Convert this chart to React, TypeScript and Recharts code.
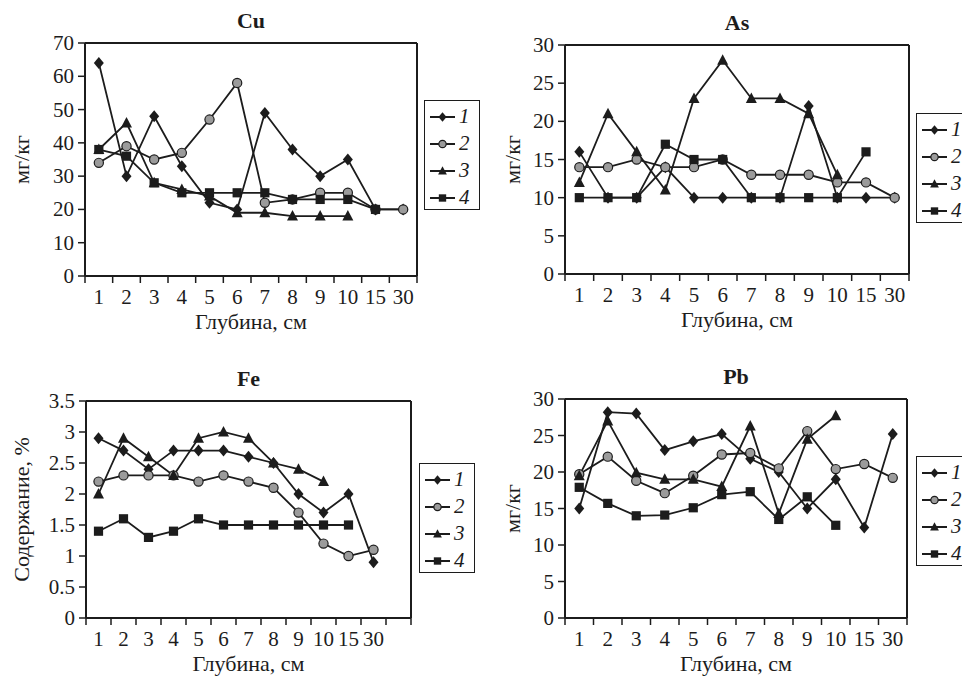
import React from "react";
import { LineChart, Line, XAxis, YAxis, Legend, CartesianGrid } from "recharts";

const depths = ["1", "2", "3", "4", "5", "6", "7", "8", "9", "10", "15", "30"];
const feDepths = [...depths, ""];
const seriesNames = ["1", "2", "3", "4"];

// Cu, мг/кг
const cu1 = [64, 30, 48, 33, 22, 20, 49, 38, 30, 35, 20, 20];
const cu2 = [34, 39, 35, 37, 47, 58, 22, 23, 25, 25, 20, 20];
const cu3 = [38, 46, 28, 26, 24, 19, 19, 18, 18, 18, null, null];
const cu4 = [38, 36, 28, 25, 25, 25, 25, 23, 23, 23, 20, null];

// As, мг/кг
const as1 = [16, 10, 10, 14, 10, 10, 10, 10, 22, 10, 10, 10];
const as2 = [14, 14, 15, 14, 14, 15, 13, 13, 13, 12, 12, 10];
const as3 = [12, 21, 16, 11, 23, 28, 23, 23, 21, 13, null, null];
const as4 = [10, 10, 10, 17, 15, 15, 10, 10, 10, 10, 16, null];

// Fe, %
const fe1 = [2.9, 2.7, 2.4, 2.7, 2.7, 2.7, 2.6, 2.5, 2.0, 1.7, 2.0, 0.9, null];
const fe2 = [2.2, 2.3, 2.3, 2.3, 2.2, 2.3, 2.2, 2.1, 1.7, 1.2, 1.0, 1.1, null];
const fe3 = [2.0, 2.9, 2.6, 2.3, 2.9, 3.0, 2.9, 2.5, 2.4, 2.2, null, null, null];
const fe4 = [1.4, 1.6, 1.3, 1.4, 1.6, 1.5, 1.5, 1.5, 1.5, 1.5, 1.5, null, null];

// Pb, мг/кг
const pb1 = [15, 28.2, 28, 23, 24.2, 25.2, 21.8, 20, 15, 19, 12.4, 25.2];
const pb2 = [19.7, 22.1, 18.8, 17.1, 19.5, 22.4, 22.6, 20.5, 25.6, 20.4, 21.1, 19.2];
const pb3 = [19.5, 27, 19.9, 19, 19, 18, 26.3, 14.3, 24.5, 27.7, null, null];
const pb4 = [17.9, 15.7, 14, 14.1, 15.1, 16.9, 17.3, 13.5, 16.6, 12.7, null, null];

const ticks70 = [0, 10, 20, 30, 40, 50, 60, 70];
const ticks30 = [0, 5, 10, 15, 20, 25, 30];
const ticks35 = [0, 0.5, 1, 1.5, 2, 2.5, 3, 3.5];

const FONT = "'Liberation Serif', 'DejaVu Serif', 'Times New Roman', serif";
const INK = "#1c1c1c";
const FS = 21;
const CAP = 22;

function marker(i: number, cx: number, cy: number, s = 1) {
  if (cx == null || cy == null || isNaN(cx) || isNaN(cy)) return null;
  if (i === 0)
    return <path d={`M${cx},${cy - 6 * s}L${cx + 5 * s},${cy}L${cx},${cy + 6 * s}L${cx - 5 * s},${cy}Z`} fill={INK} />;
  if (i === 1) return <circle cx={cx} cy={cy} r={4.6 * s} fill="#9b9b9b" stroke={INK} strokeWidth={1.2} />;
  if (i === 2)
    return <path d={`M${cx},${cy - 6 * s}L${cx + 5.5 * s},${cy + 4.5 * s}L${cx - 5.5 * s},${cy + 4.5 * s}Z`} fill={INK} />;
  return <rect x={cx - 4.6 * s} y={cy - 4.6 * s} width={9.2 * s} height={9.2 * s} fill={INK} />;
}

function Dot(props: any) {
  const { cx, cy, idx } = props;
  return <g>{marker(idx, cx, cy)}</g>;
}

function XTick(props: any) {
  const { x, payload, index, bw, axisY, n } = props;
  const left = x - bw / 2;
  return (
    <g>
      <line x1={left} x2={left} y1={axisY} y2={axisY + 7} stroke={INK} strokeWidth={1.5} />
      {index === n - 1 && <line x1={x + bw / 2} x2={x + bw / 2} y1={axisY} y2={axisY + 7} stroke={INK} strokeWidth={1.5} />}
      <text x={x} y={axisY + 28} textAnchor="middle" style={{ fontFamily: FONT, fontSize: FS }} fill={INK}>
        {payload.value}
      </text>
    </g>
  );
}

function YTick(props: any) {
  const { x, y, payload } = props;
  return (
    <text x={x} y={y} dy={7} textAnchor="end" style={{ fontFamily: FONT, fontSize: FS }} fill={INK}>
      {payload.value}
    </text>
  );
}

// x-axis caption plus the panel title above the plot
function XLabel(props: any) {
  const { viewBox, text, title, plotTop } = props;
  const cx = viewBox.x + viewBox.width / 2;
  return (
    <g>
      <text x={cx} y={viewBox.y + 53} textAnchor="middle" style={{ fontFamily: FONT, fontSize: CAP }} fill={INK}>
        {text}
      </text>
      <text x={cx} y={plotTop - 15} textAnchor="middle" style={{ fontFamily: FONT, fontSize: CAP, fontWeight: "bold" }} fill={INK}>
        {title}
      </text>
    </g>
  );
}

function YLabel(props: any) {
  const { viewBox, text, dx } = props;
  const x = viewBox.x + dx;
  const y = viewBox.y + viewBox.height / 2;
  return (
    <text x={x} y={y} dy={7} transform={`rotate(-90 ${x} ${y})`} textAnchor="middle" style={{ fontFamily: FONT, fontSize: CAP }} fill={INK}>
      {text}
    </text>
  );
}

function LegendBox(props: any) {
  const payload = props.payload || [];
  return (
    <div style={{ border: `1.5px solid ${INK}`, background: "#fff", width: 56, height: 110, boxSizing: "border-box", paddingTop: 2 }}>
      {payload.map((p: any, i: number) => (
        <div key={i} style={{ height: 27, display: "flex", alignItems: "center" }}>
          <svg width={34} height={16} style={{ display: "block" }}>
            <line x1={5} x2={30} y1={8} y2={8} stroke={INK} strokeWidth={2} />
            {marker(i, 17.5, 8, 0.8)}
          </svg>
          <span style={{ fontFamily: FONT, fontStyle: "italic", fontSize: FS, lineHeight: 1, color: INK }}>{p.value}</span>
        </div>
      ))}
    </div>
  );
}

type PanelProps = {
  title: string;
  yLabel: string;
  yLabelDx: number;
  cats: string[];
  series: (number | null)[][];
  yTicks: number[];
  left: number;
  top: number;
  w: number;
  h: number;
  plot: { l: number; r: number; t: number; b: number };
  legend: { left: number; top: number };
};

function Panel({ title, yLabel, yLabelDx, cats, series, yTicks, left, top, w, h, plot, legend }: PanelProps) {
  const data = cats.map((d, i) => {
    const row: any = { depth: d };
    series.forEach((s, k) => {
      row["s" + k] = s[i] ?? null;
    });
    return row;
  });
  const n = cats.length;
  const bw = (plot.r - plot.l) / n;
  const axis = { stroke: INK, strokeWidth: 2 };

  return (
    <div style={{ position: "absolute", left, top, width: w, height: h }}>
      <LineChart width={w} height={h} data={data} margin={{ top: plot.t, left: 0, right: w - plot.r, bottom: 0 }}>
        {/* frame: top and right edges of the plot box */}
        <CartesianGrid
          stroke={INK}
          strokeWidth={2}
          strokeDasharray=""
          horizontalCoordinatesGenerator={(p: any) => [p.offset.top]}
          verticalCoordinatesGenerator={(p: any) => [p.offset.left + p.offset.width]}
        />
        <XAxis
          dataKey="depth"
          height={h - plot.b}
          interval={0}
          padding={{ left: bw / 2, right: bw / 2 }}
          axisLine={axis}
          tickLine={false}
          tick={<XTick bw={bw} axisY={plot.b} n={n} />}
          label={<XLabel text="Глубина, см" title={title} plotTop={plot.t} />}
        />
        <YAxis
          width={plot.l}
          domain={[yTicks[0], yTicks[yTicks.length - 1]]}
          ticks={yTicks}
          interval={0}
          tickSize={7}
          tickMargin={4}
          axisLine={axis}
          tickLine={{ stroke: INK, strokeWidth: 1.5 }}
          tick={<YTick />}
          label={<YLabel text={yLabel} dx={yLabelDx} />}
        />
        <Legend layout="horizontal" verticalAlign="middle" align="center" content={<LegendBox />} wrapperStyle={{ position: "absolute", left: legend.left, top: legend.top, width: 56, height: 110 }} />
        {series.map((_, k) => (
          <Line
            key={k}
            dataKey={"s" + k}
            name={seriesNames[k]}
            type="linear"
            stroke={INK}
            strokeWidth={1.8}
            dot={<Dot idx={k} />}
            activeDot={false}
            connectNulls={false}
            isAnimationActive={false}
          />
        ))}
      </LineChart>
    </div>
  );
}

export default function App() {
  return (
    <div style={{ position: "absolute", left: 0, top: 0, width: 962, height: 679, overflow: "hidden", background: "#fff" }}>
      <Panel title="Cu" yLabel="мг/кг" yLabelDx={22} cats={depths} series={[cu1, cu2, cu3, cu4]} yTicks={ticks70}
        left={0} top={0} w={490} h={345} plot={{ l: 85, r: 417, t: 43, b: 276 }} legend={{ left: 424, top: 100 }} />
      <Panel title="As" yLabel="мг/кг" yLabelDx={33} cats={depths} series={[as1, as2, as3, as4]} yTicks={ticks30}
        left={480} top={0} w={482} h={345} plot={{ l: 85, r: 429, t: 45, b: 274 }} legend={{ left: 436, top: 113 }} />
      <Panel title="Fe" yLabel="Содержание, %" yLabelDx={22} cats={feDepths} series={[fe1, fe2, fe3, fe4]} yTicks={ticks35}
        left={0} top={340} w={490} h={339} plot={{ l: 86, r: 411, t: 61, b: 278 }} legend={{ left: 419, top: 123 }} />
      <Panel title="Pb" yLabel="мг/кг" yLabelDx={33} cats={depths} series={[pb1, pb2, pb3, pb4]} yTicks={ticks30}
        left={480} top={340} w={482} h={339} plot={{ l: 85, r: 427, t: 59, b: 278 }} legend={{ left: 436, top: 116 }} />
    </div>
  );
}
